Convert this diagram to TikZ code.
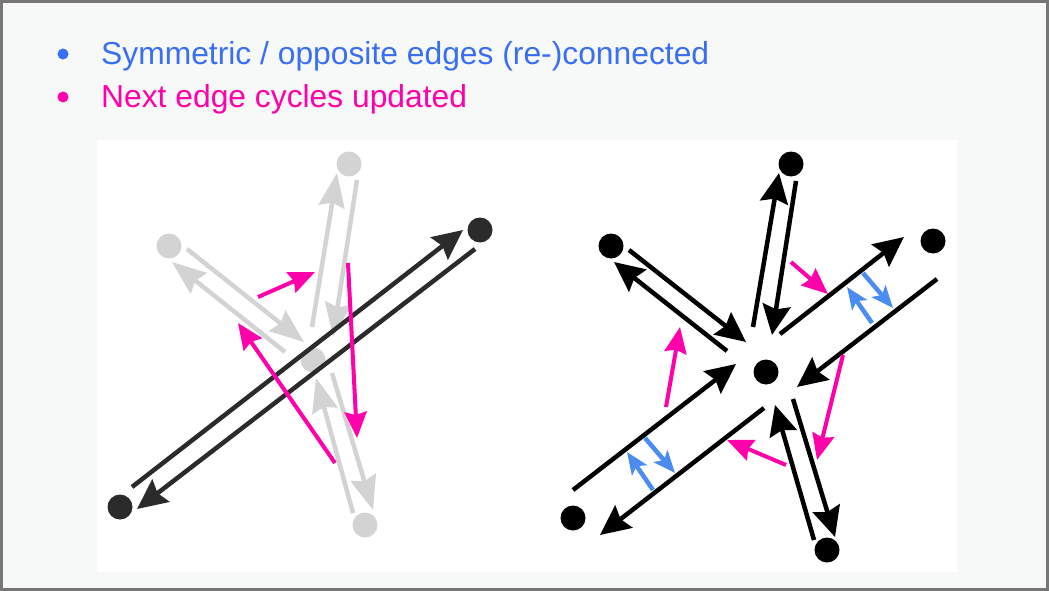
\documentclass[tikz,border=0pt]{standalone}
\usepackage{fontspec}
\setmainfont{Liberation Sans}
\usetikzlibrary{arrows.meta, calc}
\definecolor{slideblue}{HTML}{3A6EF5}
\definecolor{slidepink}{HTML}{FF00AA}
\definecolor{twinblue}{HTML}{4A8CF0}
\definecolor{ghostgray}{HTML}{D3D3D3}
\definecolor{darkedge}{HTML}{2B2B2B}
\definecolor{slidebg}{HTML}{F6F9F7}
\definecolor{framegray}{HTML}{767676}

\begin{document}
\begin{tikzpicture}[x=1pt, y=-1pt,
  vtx/.style={circle, fill=#1, inner sep=0pt, minimum size=25pt},
  ghost/.style={ghostgray, line width=4.5pt, -{Stealth[length=34pt, width=26pt, inset=4pt]}},
  hedge/.style={#1, line width=4.5pt, -{Stealth[length=30pt, width=28pt, inset=4pt]}},
  nextptr/.style={slidepink, line width=4pt, -{Stealth[length=26pt, width=22pt, inset=3pt]}},
  twinptr/.style={twinblue, line width=4.5pt, -{Stealth[length=22pt, width=18pt, inset=5pt]}},
  bullet/.style={circle, fill=#1, inner sep=0pt, minimum size=11pt},
  itemtext/.style={anchor=base west, inner sep=0pt, text=#1, font=\fontsize{31.8}{38}\selectfont}]
  \useasboundingbox (0,0) rectangle (1049,591);
  \fill[slidebg] (0,0) rectangle (1049,591);
  \draw[framegray, line width=3pt] (1.5,1.5) rectangle (1047.5,589.5);
  \fill[white] (97,140) rectangle (957,572);

  % bullet list
  \node[bullet=slideblue] (b1) at (63,54) {};
  \node[itemtext=slideblue] (t1) at (101,65) {Symmetric / opposite edges (re-)connected};
  \node[bullet=slidepink] (b2) at (63,97) {};
  \node[itemtext=slidepink] (t2) at (101,108) {Next edge cycles updated};

  % before: faded star and the new edge
  \node[vtx=ghostgray] (lt) at (349,164) {};
  \node[vtx=ghostgray] (ll) at (169,246) {};
  \node[vtx=ghostgray] (lc) at (313,360) {};
  \node[vtx=ghostgray] (lb) at (365,525) {};
  \node[vtx=darkedge] (lr) at (480,230) {};
  \node[vtx=darkedge] (lbl) at (120,507) {};

  \draw[ghost] ([shift={(-1,-33)}]lc.center) -- ([shift={(-12,9)}]lt.center);
  \draw[ghost] ([shift={(8,16)}]lt.center) -- ([shift={(20,-23)}]lc.center);
  \draw[ghost] ([shift={(18,3)}]ll.center) -- ([shift={(-9,-18)}]lc.center);
  \draw[ghost] ([shift={(-28,-8)}]lc.center) -- ([shift={(3,16)}]ll.center);
  \draw[ghost] ([shift={(19,13)}]lc.center) -- ([shift={(8,-15)}]lb.center);
  \draw[ghost] ([shift={(-12,-12)}]lb.center) -- ([shift={(3,18)}]lc.center);

  \draw[hedge=darkedge] ([shift={(12,-20)}]lbl.center) -- ([shift={(-17,0)}]lr.center);
  \draw[hedge=darkedge] ([shift={(-5,19)}]lr.center) -- ([shift={(17,2)}]lbl.center);

  \draw[nextptr] ([shift={(-55,-63)}]lc.center) -- ([shift={(2,-88)}]lc.center);
  \draw[nextptr] ([shift={(22,103)}]lc.center) -- ([shift={(-75,-37)}]lc.center);
  \draw[nextptr] ([shift={(35,-97)}]lc.center) -- ([shift={(44,78)}]lc.center);

  % after: edge split into the star
  \node[vtx=black] (rt) at (791,164) {};
  \node[vtx=black] (rl) at (611,246) {};
  \node[vtx=black] (rr) at (933,241) {};
  \node[vtx=black] (rc) at (766,372) {};
  \node[vtx=black] (rbl) at (573,518) {};
  \node[vtx=black] (rb) at (827,550) {};

  \draw[hedge=black] ([shift={(-13,-45)}]rc.center) -- ([shift={(-12,9)}]rt.center);
  \draw[hedge=black] ([shift={(5,17)}]rt.center) -- ([shift={(6,-37)}]rc.center);
  \draw[hedge=black] ([shift={(18,4)}]rl.center) -- ([shift={(-20,-30)}]rc.center);
  \draw[hedge=black] ([shift={(-39,-21)}]rc.center) -- ([shift={(3,16)}]rl.center);
  \draw[hedge=black] ([shift={(14,-38)}]rc.center) -- ([shift={(-29,-4)}]rr.center);
  \draw[hedge=black] ([shift={(4,38)}]rr.center) -- ([shift={(31,15)}]rc.center);
  \draw[hedge=black] ([shift={(0,-28)}]rbl.center) -- ([shift={(-30,-8)}]rc.center);
  \draw[hedge=black] ([shift={(-2,36)}]rc.center) -- ([shift={(27,17)}]rbl.center);
  \draw[hedge=black] ([shift={(-13,-10)}]rb.center) -- ([shift={(9,33)}]rc.center);
  \draw[hedge=black] ([shift={(27,27)}]rc.center) -- ([shift={(8,-13)}]rb.center);

  \draw[nextptr] ([shift={(25,-110)}]rc.center) -- ([shift={(62,-78)}]rc.center);
  \draw[nextptr] ([shift={(-100,35)}]rc.center) -- ([shift={(-86,-45)}]rc.center);
  \draw[nextptr] ([shift={(77,-17)}]rc.center) -- ([shift={(51,88)}]rc.center);
  \draw[nextptr] ([shift={(20,93)}]rc.center) -- ([shift={(-39,68)}]rc.center);

  \draw[twinptr] ([shift={(-61,82)}]rr.center) -- ([shift={(-86,46)}]rr.center);
  \draw[twinptr] ([shift={(-70,32)}]rr.center) -- ([shift={(-40,67)}]rr.center);
  \draw[twinptr] ([shift={(80,-28)}]rbl.center) -- ([shift={(54,-66)}]rbl.center);
  \draw[twinptr] ([shift={(72,-80)}]rbl.center) -- ([shift={(102,-45)}]rbl.center);
\end{tikzpicture}
\end{document}
